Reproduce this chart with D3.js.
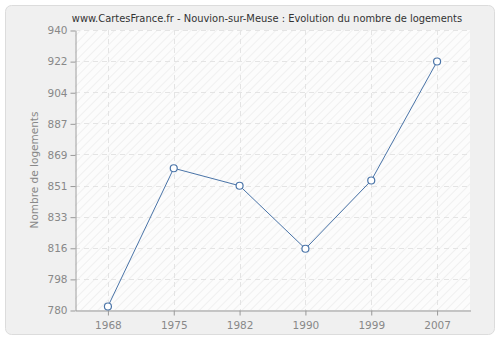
<!DOCTYPE html>
<html>
<head>
<meta charset="utf-8" />
<style>
  body { margin: 0; background: #ffffff; }
  text { font-family: "DejaVu Sans", Verdana, sans-serif; }
  .grid line { stroke: #e4e4e4; stroke-dasharray: 5,4; }
  .axis path, .axis line { stroke: #999; }
  .axis text { fill: #888; font-size: 10.5px; }
  #title { font-family: "DejaVu Sans Condensed", "Noto Sans", sans-serif; }
</style>
<script src="https://cdnjs.cloudflare.com/ajax/libs/d3/7.8.5/d3.min.js"></script>
</head>
<body>
<div id="graph"></div>
<script>
  var years = ['1968', '1975', '1982', '1990', '1999', '2007'];
  var logements = [782, 861, 851, 815, 854, 922];
  var yTicks = [780, 798, 816, 833, 851, 869, 887, 904, 922, 940];

  var w = 500, h = 340;
  var m = { top: 30, right: 30, bottom: 30, left: 75 };

  var svg = d3.select('#graph').append('svg')
    .attr('width', w)
    .attr('height', h);

  // hatch pattern for the plot background
  var pat = svg.append('defs').append('pattern')
    .attr('id', 'hatch')
    .attr('patternUnits', 'userSpaceOnUse')
    .attr('width', 6).attr('height', 6)
    .attr('patternTransform', 'rotate(45)');
  pat.append('rect').attr('width', 6).attr('height', 6).attr('fill', '#fcfcfc');
  pat.append('line').attr('x1', 0).attr('y1', 0).attr('x2', 0).attr('y2', 6)
    .attr('stroke', '#f0f0f0').attr('stroke-width', 2);

  svg.append('rect')
    .attr('x', 5.5).attr('y', 5.5)
    .attr('width', w - 11).attr('height', h - 11)
    .attr('rx', 6)
    .attr('fill', '#f0f0f0')
    .attr('stroke', '#dcdcdc');

  var x = d3.scaleBand()
    .domain(years)
    .range([m.left, w - m.right]);

  var y = d3.scaleLinear()
    .domain([780, 940])
    .range([h - m.bottom, m.top]);

  var cx = d => x(d) + x.bandwidth() / 2;

  svg.append('rect')
    .attr('x', m.left).attr('y', m.top)
    .attr('width', w - m.left - m.right)
    .attr('height', h - m.top - m.bottom)
    .attr('fill', 'url(#hatch)');

  var grid = svg.append('g').attr('class', 'grid');
  grid.selectAll('.hg')
    .data(yTicks.slice(1))
    .enter().append('line')
    .attr('x1', m.left).attr('x2', w - m.right)
    .attr('y1', (d, i) => Math.round(y(780 + (i + 1) * 160 / 9)) + 0.5)
    .attr('y2', (d, i) => Math.round(y(780 + (i + 1) * 160 / 9)) + 0.5);
  grid.selectAll('.vg')
    .data(years)
    .enter().append('line')
    .attr('y1', m.top).attr('y2', h - m.bottom)
    .attr('x1', d => Math.round(cx(d)) + 0.5)
    .attr('x2', d => Math.round(cx(d)) + 0.5);

  // y axis: ticks evenly spaced, labels rounded
  svg.append('g')
    .attr('class', 'axis')
    .attr('transform', 'translate(' + (m.left + 0.5) + ',0.5)')
    .call(d3.axisLeft(y)
      .tickValues(yTicks.map((d, i) => 780 + i * 160 / 9))
      .tickFormat((d, i) => yTicks[i])
      .tickSize(5).tickSizeOuter(0).tickPadding(3));

  svg.append('g')
    .attr('class', 'axis')
    .attr('transform', 'translate(0.5,' + (h - m.bottom + 0.5) + ')')
    .call(d3.axisBottom(x).tickSize(5).tickSizeOuter(0).tickPadding(6));

  svg.append('text')
    .attr('id', 'title')
    .attr('x', 267)
    .attr('y', 22)
    .attr('text-anchor', 'middle')
    .attr('font-size', 11)
    .attr('fill', '#333')
    .text('www.CartesFrance.fr - Nouvion-sur-Meuse : Evolution du nombre de logements');

  svg.append('text')
    .attr('transform', 'translate(38,' + ((m.top + h - m.bottom) / 2) + ') rotate(-90)')
    .attr('text-anchor', 'middle')
    .attr('font-size', 10.5)
    .attr('fill', '#888')
    .text('Nombre de logements');

  var line = d3.line()
    .x((d, i) => cx(years[i]))
    .y(d => y(d));

  svg.append('path')
    .datum(logements)
    .attr('fill', 'none')
    .attr('stroke', '#4a74a8')
    .attr('stroke-width', 1)
    .attr('d', line);

  svg.selectAll('.pt')
    .data(logements)
    .enter().append('circle')
    .attr('cx', (d, i) => cx(years[i]))
    .attr('cy', d => y(d))
    .attr('r', 3.5)
    .attr('fill', '#fff')
    .attr('stroke', '#4a74a8')
    .attr('stroke-width', 1.2);
</script>
</body>
</html>
